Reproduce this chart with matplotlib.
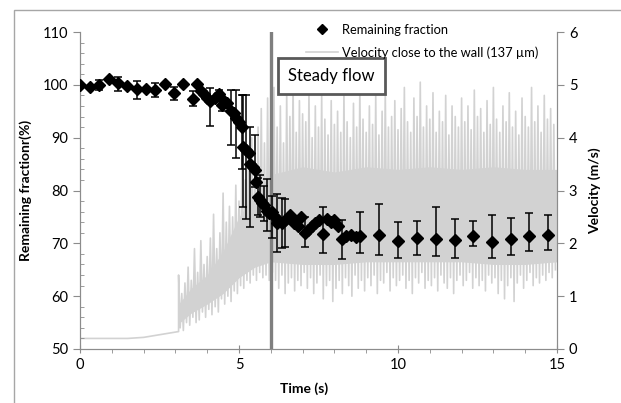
import numpy as np
import matplotlib
matplotlib.use("Agg")
import matplotlib.pyplot as plt
from matplotlib.patches import Rectangle
from matplotlib.lines import Line2D
from matplotlib.ticker import MultipleLocator

plt.rcParams['font.family'] = ['Lato', 'DejaVu Sans']

# remaining fraction (%) with error bars (0 = no bar)
frac_t = [0.00, 0.31, 0.60, 0.90, 1.20, 1.48, 1.78, 2.08, 2.37, 2.67, 2.96, 3.25,
          3.54, 3.67, 3.80, 3.90, 4.00, 4.10, 4.24, 4.36, 4.45, 4.53, 4.62, 4.75,
          4.84, 4.92, 5.00, 5.08, 5.14, 5.22, 5.31, 5.35, 5.43, 5.50, 5.55, 5.60,
          5.66, 5.72, 5.78, 5.87, 5.94, 6.03, 6.10, 6.18, 6.24, 6.34, 6.45, 6.60,
          6.74, 6.85, 6.94, 7.08, 7.18, 7.28, 7.39, 7.50, 7.65, 7.77, 7.88, 7.98,
          8.12, 8.23, 8.38, 8.53, 8.69, 8.80, 9.41, 10.01, 10.61, 11.19, 11.78,
          12.36, 12.95, 13.54, 14.12, 14.71, 15.29]
frac_v = [100.0, 99.6, 100.0, 101.1, 100.3, 99.7, 99.2, 99.2, 99.1, 100.1, 98.4, 100.1,
          97.3, 100.1, 98.9, 98.3, 97.6, 96.9, 97.6, 98.2, 96.1, 97.0, 96.5, 95.1,
          94.6, 93.8, 93.0, 92.0, 88.3, 87.7, 87.1, 85.1, 84.4, 83.9, 81.7, 78.8,
          78.2, 77.7, 77.3, 76.2, 75.7, 76.0, 75.1, 73.8, 74.4, 73.8, 74.4, 75.4,
          73.8, 73.3, 75.0, 71.9, 72.6, 73.2, 73.8, 74.4, 71.8, 74.7, 74.1, 74.4,
          73.2, 70.8, 71.4, 71.5, 71.2, 71.4, 71.5, 70.5, 71.0, 70.9, 70.6,
          71.4, 70.2, 70.8, 71.3, 71.5, 71.3]
err_up = [0, 0, 1.0, 0, 1.2, 0, 1.6, 0, 1.3, 0, 1.1, 0,
          1.6, 0, 0, 0, 0, 2.5, 0, 0.8, 1.0, 0, 0, 3.9,
          0, 5.2, 0, 6.1, 9.8, 10.4, 0, 6.9, 0, 6.6, 0, 3.5,
          4.7, 0, 3.5, 6.0, 0, 3.0, 0, 5.5, 0, 4.7, 4.0, 0,
          0, 0, 0, 3.1, 0, 0, 0, 0, 5.0, 0, 0, 0,
          0, 3.6, 0, 0, 0, 4.6, 5.9, 3.6, 3.2, 5.9, 4.1,
          2.9, 5.2, 4.0, 4.5, 3.8, 3.2]
err_dn = [0, 0, 1.0, 0, 1.4, 0, 1.9, 0, 1.4, 0, 1.2, 0,
          1.4, 0, 0, 0, 0, 4.6, 0, 1.1, 1.0, 0, 0, 6.5,
          0, 7.7, 0, 8.0, 11.4, 13.0, 0, 12.0, 0, 3.2, 0, 3.5,
          3.2, 0, 3.0, 3.8, 0, 5.0, 0, 5.4, 0, 4.7, 5.0, 0,
          0, 0, 0, 2.5, 0, 0, 0, 0, 3.7, 0, 0, 0,
          0, 3.8, 0, 0, 0, 3.3, 3.7, 3.3, 3.3, 3.3, 3.4,
          1.9, 3.0, 3.0, 2.8, 2.8, 2.8]

# velocity close to the wall (m/s): quiet start, then noisy signal as min/max per 0.1 s
vel_base_t = [0.0, 1.5, 2.0, 2.6, 3.1]
vel_base_v = [0.20, 0.20, 0.22, 0.28, 0.33]
vel_t0, vel_dt = 3.1, 0.1
vel_hi = [1.40, 1.05, 1.25, 1.55, 1.30, 1.90, 1.45, 2.05, 1.60, 1.75,
          2.10, 2.55, 1.90, 2.20, 2.95, 2.40, 2.70, 2.50, 3.10, 2.80,
          3.85, 3.20, 3.60, 4.00, 3.50, 4.20, 4.55, 3.90, 4.75, 4.30,
          4.95, 4.20, 4.60, 3.90, 4.85, 4.40, 5.05, 4.10, 4.70, 4.45,
          4.30, 4.90, 4.00, 4.60, 4.20, 4.80, 4.35, 4.05, 4.70, 4.25,
          4.50, 4.10, 4.85, 4.30, 4.00, 4.65, 4.20, 4.95, 4.35, 4.10,
          4.60, 4.25, 4.80, 4.05, 4.50, 4.90, 4.20, 4.40, 4.70, 4.15,
          4.55, 4.95, 4.30, 4.10, 4.75, 4.40, 5.05, 4.20, 4.60, 4.35,
          4.85, 4.10, 4.50, 4.30, 4.80, 4.05, 4.60, 4.40, 4.20, 4.75,
          4.30, 4.60, 4.15, 4.90, 4.40, 4.55, 4.10, 4.70, 4.25, 4.95,
          4.35, 4.10, 4.60, 4.30, 4.85, 4.20, 4.50, 4.05, 4.75, 4.40,
          4.20, 4.95, 4.30, 4.60, 4.10, 4.80, 4.35, 4.55, 4.25]
vel_lo = [0.40, 0.35, 0.50, 0.45, 0.60, 0.50, 0.55, 0.70, 0.60, 0.75,
          0.65, 0.80, 0.70, 0.95, 0.85, 1.00, 0.90, 1.10, 1.05, 1.20,
          1.15, 1.30, 1.25, 1.40, 1.30, 1.45, 1.35, 1.40, 1.30, 1.45,
          1.30, 1.15, 1.40, 1.05, 1.25, 1.35, 1.10, 1.30, 1.20, 1.45,
          1.15, 1.35, 1.05, 1.25, 1.40, 0.95, 1.20, 1.30, 0.90, 1.15,
          1.30, 1.05, 1.35, 1.20, 1.00, 1.40, 1.15, 1.30, 1.10, 1.35,
          1.20, 1.40, 1.05, 1.30, 1.25, 1.45, 1.10, 1.35, 1.20, 1.30,
          1.40, 1.15, 1.30, 1.05, 1.35, 1.25, 1.45, 1.15, 1.30, 1.20,
          1.35, 1.10, 1.40, 1.25, 1.15, 1.35, 1.05, 1.30, 1.40, 1.20,
          1.30, 1.45, 1.15, 1.35, 1.20, 1.30, 1.10, 1.40, 1.25, 1.35,
          1.05, 1.30, 0.95, 1.20, 1.35, 0.90, 1.25, 1.40, 1.15, 1.30,
          1.45, 1.20, 1.35, 1.25, 1.40, 1.30, 1.45, 1.35, 1.50]
# dense core of the signal
core_t = [3.1, 3.5, 4.0, 4.5, 5.0, 5.5, 6.0, 7.0, 8.0, 9, 10, 11, 12, 13, 14, 15]
core_lo = [0.48, 0.68, 0.85, 1.05, 1.35, 1.55, 1.65, 1.60, 1.60, 1.65, 1.65, 1.65, 1.65, 1.60, 1.60, 1.65]
core_hi = [0.85, 1.15, 1.40, 1.85, 2.50, 2.95, 3.30, 3.45, 3.35, 3.45, 3.40, 3.45, 3.40, 3.45, 3.40, 3.40]

steady_t = 6.0

gray = '#d2d2d2'

fig = plt.figure(figsize=(6.21, 4.03), dpi=100)
ax = fig.add_axes([80/621, 1-349/403, 477/621, 317/403])
ax2 = ax.twinx()
ax.set_zorder(ax2.get_zorder() + 1)
ax.patch.set_visible(False)

# velocity trace
n = len(vel_hi)
tt = vel_t0 + vel_dt*np.arange(n)
zz_t = np.empty(2*n)
zz_v = np.empty(2*n)
zz_t[0::2] = tt
zz_t[1::2] = tt + vel_dt/2
zz_v[0::2] = vel_hi
zz_v[1::2] = vel_lo
ax2.fill_between(core_t, core_lo, core_hi, color=gray, lw=0)
ax2.plot(vel_base_t + list(zz_t), vel_base_v + list(zz_v), color=gray, lw=1.2)
ax2.set_ylim(0, 6)
ax2.set_yticks(range(0, 7))
ax2.set_ylabel('Velocity (m/s)', fontsize=10, fontweight='bold', labelpad=8)

# steady flow marker line
ax.axvline(steady_t, color='#7f7f7f', lw=2.4, zorder=1)

# remaining fraction
frac_t_a = np.array(frac_t)
frac_v_a = np.array(frac_v)
up = np.array(err_up)
dn = np.array(err_dn)
m = (up > 0) | (dn > 0)
ax.errorbar(frac_t_a[m], frac_v_a[m], yerr=[dn[m], up[m]], fmt='none', ecolor='black',
            elinewidth=1.1, capsize=3, capthick=1.1, zorder=2)
ax.plot(frac_t, frac_v, 'D', color='black', ms=6, zorder=3)

ax.set_xlim(0, 15)
ax.set_ylim(50, 110)
ax.xaxis.set_major_locator(MultipleLocator(5))
ax.xaxis.set_minor_locator(MultipleLocator(1))
ax.yaxis.set_major_locator(MultipleLocator(10))
ax.yaxis.set_minor_locator(MultipleLocator(2))
ax.set_xlabel('Time (s)', fontsize=10, fontweight='bold')
ax.xaxis.set_label_coords(0.47, -0.105)
ax.set_ylabel('Remaining fractionr(%)', fontsize=10, fontweight='bold', labelpad=8)

spine_c = '#8c8c8c'
for a in (ax, ax2):
    a.spines['top'].set_visible(False)
    for s in ('left', 'right', 'bottom'):
        a.spines[s].set_color(spine_c)
    a.tick_params(which='both', color=spine_c, labelsize=10.5)
ax.tick_params(axis='y', which='major', direction='out', length=5)
ax.tick_params(axis='y', which='minor', direction='in', length=3)
ax.tick_params(axis='x', which='major', direction='inout', length=6)
ax.tick_params(axis='x', which='minor', direction='out', length=3)
ax2.tick_params(axis='y', direction='out', length=5)

# steady flow box
ax.text(6.55, 101.6, 'Steady flow', fontsize=12, ha='left', va='center', zorder=4,
        bbox=dict(boxstyle='square,pad=0.6', fc='white', ec='#595959', lw=2.0))

# legend
h1 = Line2D([], [], ls='none', marker='D', color='black', ms=5)
h2 = Line2D([], [], color=gray, lw=1.2)
fig.legend([h1, h2], ['Remaining fraction', 'Velocity close to the wall (137 µm)'],
           loc='upper right', bbox_to_anchor=(550/621, 1-12/403), frameon=False,
           fontsize=9.3, labelspacing=0.8, handlelength=2.5, handletextpad=0.3)

# outer frame
fig.patches.append(Rectangle((14/621, -0.1), 1.2, 1.1 - 10/403, transform=fig.transFigure,
                             fill=False, ec='#a6a6a6', lw=1.0))

fig.savefig('out.png', dpi=100)
